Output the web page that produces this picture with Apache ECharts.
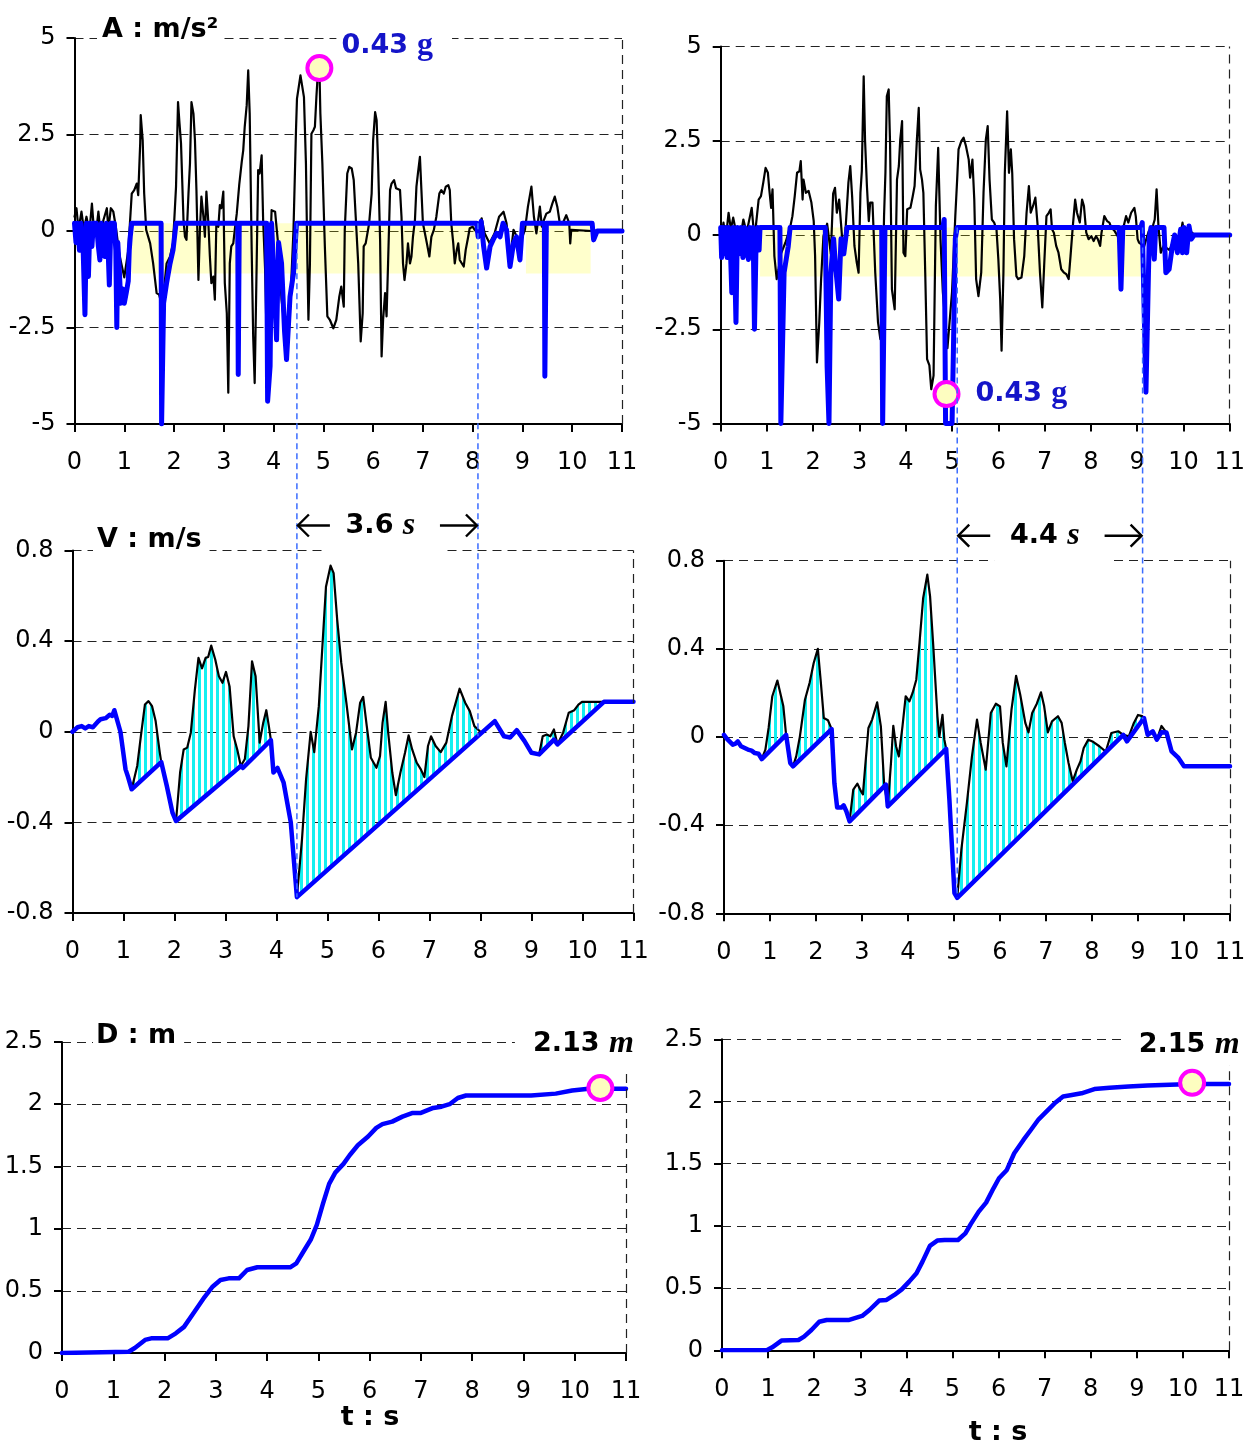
<!DOCTYPE html>
<html>
<head>
<meta charset="utf-8">
<script src="https://cdn.jsdelivr.net/npm/echarts@6/dist/echarts.min.js"></script>
<style>
  html, body { margin: 0; padding: 0; background: #fff; }
  #chart { width: 1252px; height: 1446px; }
</style>
</head>
<body>
<div id="chart"></div>
<script>
// ---- axis ticks ----
const timeTicks = [0, 1, 2, 3, 4, 5, 6, 7, 8, 9, 10, 11];
const accTicks = [-5, -2.5, 0, 2.5, 5];
const velTicks = [-0.8, -0.4, 0, 0.4, 0.8];
const distTicks = [0, 0.5, 1, 1.5, 2, 2.5];

// ---- acceleration, run 1 (t [s], a [m/s2]) ----
const accLeftRaw = [[0,0.37],[0.04,0.59],[0.08,0.03],[0.14,0.5],[0.19,0.03],[0.24,0.37],[0.3,-0.02],[0.35,0.71],[0.39,0.03],[0.44,0.03],[0.48,0.5],[0.53,-0.15],[0.58,0.28],[0.65,0.59],[0.68,0.03],[0.73,0.59],[0.78,0.5],[0.83,0.11],[0.9,-0.6],[1.0,-1.2],[1.08,-0.5],[1.15,0.97],[1.2,1.06],[1.25,1.23],[1.28,0.93],[1.32,2.27],[1.33,3.0],[1.37,2.35],[1.4,0.97],[1.44,0.03],[1.48,0.03],[1.52,-0.32],[1.58,-0.84],[1.65,-1.61],[1.7,-1.65],[1.75,-1.9],[1.8,-1.5],[1.85,-0.84],[1.92,-0.66],[1.98,-0.32],[2.04,1.15],[2.08,3.34],[2.11,2.78],[2.14,2.27],[2.19,0.28],[2.22,-0.15],[2.25,-0.23],[2.29,0.97],[2.32,1.75],[2.35,3.34],[2.39,3.04],[2.42,2.35],[2.45,1.06],[2.49,-1.27],[2.52,0.03],[2.55,0.89],[2.59,0.37],[2.62,-0.15],[2.65,1.02],[2.69,0.2],[2.72,-0.66],[2.75,-1.35],[2.79,-1.18],[2.82,-1.78],[2.85,0.2],[2.89,0.11],[2.92,0.67],[2.95,0.59],[2.99,1.02],[3.02,-1.35],[3.06,-2.13],[3.09,-4.19],[3.12,-0.84],[3.15,-0.4],[3.19,-0.32],[3.22,0.03],[3.26,0.45],[3.31,1.2],[3.36,1.79],[3.39,2.09],[3.42,2.7],[3.46,3.26],[3.49,4.16],[3.52,3.04],[3.56,-0.49],[3.59,-2.73],[3.62,-3.94],[3.66,-0.84],[3.69,1.58],[3.72,1.49],[3.76,1.96],[3.79,0.28],[3.83,-1.01],[3.87,-3.4],[3.92,-1.0],[3.96,0.54],[4.03,0.5],[4.09,-0.32],[4.16,-1.78],[4.23,-2.56],[4.33,-2.04],[4.4,0.03],[4.45,2.61],[4.47,3.43],[4.51,3.47],[4.54,4.03],[4.57,4.07],[4.61,3.47],[4.65,1.75],[4.68,-0.84],[4.7,-2.3],[4.73,-0.84],[4.76,2.52],[4.8,2.61],[4.83,2.7],[4.86,3.47],[4.9,4.33],[4.92,4.25],[4.94,3.04],[4.98,1.75],[5.03,-0.4],[5.08,-2.21],[5.13,-2.3],[5.2,-2.52],[5.26,-2.3],[5.32,-1.7],[5.36,-1.44],[5.41,-1.96],[5.43,0.03],[5.48,1.49],[5.52,1.66],[5.57,1.62],[5.61,1.32],[5.65,0.37],[5.7,-0.84],[5.75,-2.86],[5.79,-2.13],[5.81,-0.4],[5.85,-0.32],[5.89,-0.32],[5.92,0.2],[5.97,0.97],[6.0,2.35],[6.04,3.08],[6.07,2.87],[6.1,1.75],[6.14,-0.23],[6.17,-3.25],[6.2,-2.3],[6.24,-1.61],[6.27,-2.21],[6.3,-0.84],[6.34,1.06],[6.37,1.23],[6.42,1.32],[6.46,1.11],[6.5,1.15],[6.54,1.06],[6.57,0.37],[6.6,-0.84],[6.63,-1.27],[6.67,-0.84],[6.7,-0.32],[6.74,-0.84],[6.77,-0.66],[6.8,-0.15],[6.84,0.28],[6.87,1.15],[6.9,1.49],[6.94,1.92],[6.97,1.06],[7.0,0.2],[7.04,-0.06],[7.08,-0.32],[7.13,-0.66],[7.17,-0.15],[7.22,0.03],[7.27,0.37],[7.33,0.97],[7.37,1.06],[7.42,0.97],[7.46,1.15],[7.51,1.19],[7.54,1.06],[7.57,0.2],[7.61,-0.32],[7.64,-0.84],[7.68,-0.49],[7.71,-0.32],[7.74,-0.75],[7.78,-0.75],[7.82,-0.92],[7.86,-0.49],[7.91,-0.15],[7.94,0.07],[8.0,0.11],[8.04,0.03],[8.1,-0.06],[8.18,0.33],[8.24,-0.06],[8.34,-0.32],[8.44,-0.06],[8.53,0.37],[8.62,0.5],[8.68,0.2],[8.75,-0.75],[8.82,0.03],[8.95,-0.32],[9.05,0.03],[9.11,0.63],[9.18,1.15],[9.23,0.37],[9.28,-0.06],[9.35,0.63],[9.39,0.11],[9.43,0.28],[9.48,0.45],[9.55,0.5],[9.6,0.71],[9.65,0.89],[9.7,0.63],[9.75,0.2],[9.81,0.2],[9.88,0.41],[9.94,0.2],[9.96,-0.32],[9.98,0.03],[10.0,0],[10.4,0],[11,0]];
const accLeftBrake = [[0,0.2],[0.03,-0.3],[0.06,0.2],[0.1,-0.5],[0.13,0.2],[0.17,-0.3],[0.21,-2.17],[0.24,0.2],[0.28,-1.18],[0.31,0.2],[0.35,-0.4],[0.38,0.2],[0.44,0.2],[0.48,-0.4],[0.51,-0.75],[0.54,0.2],[0.58,-0.3],[0.61,-0.66],[0.64,0.2],[0.67,-0.3],[0.7,-1.4],[0.73,0.2],[0.8,0.2],[0.83,-0.5],[0.85,-2.5],[0.87,-0.3],[0.9,-1.0],[0.93,-1.87],[0.97,-1.5],[1.0,-1.87],[1.04,-1.6],[1.08,-1.3],[1.1,-0.5],[1.12,-0.15],[1.15,0.2],[1.74,0.2],[1.75,-5],[1.77,-5],[1.79,-1.87],[1.85,-1.35],[1.92,-0.84],[1.98,-0.49],[2.04,0.2],[3.28,0.2],[3.29,-3.72],[3.31,0.2],[3.86,0.2],[3.88,-4.41],[3.9,-4.41],[3.93,-3.5],[3.96,0.2],[4.0,0.2],[4.06,-2.82],[4.1,-0.3],[4.16,-0.84],[4.22,-2.6],[4.26,-3.33],[4.33,-1.7],[4.4,-1.1],[4.46,0.2],[8.08,0.2],[8.11,-0.15],[8.17,0.25],[8.22,-0.4],[8.28,-0.96],[8.35,-0.4],[8.41,-0.23],[8.48,-0.06],[8.55,-0.15],[8.61,0.2],[8.68,0.03],[8.75,-0.92],[8.82,-0.32],[8.88,-0.15],[8.95,-0.75],[9.0,0.2],[9.44,0.2],[9.45,-3.76],[9.47,-3.76],[9.48,0.2],[10.4,0.2],[10.43,-0.23],[10.5,0],[11,0]];

// ---- acceleration, run 2 ----
const accRightRaw = [[0,-0.2],[0.06,0.33],[0.11,-0.11],[0.17,0.59],[0.22,0.15],[0.27,0.46],[0.35,-0.03],[0.42,-0.11],[0.49,0.41],[0.56,0.06],[0.67,0.72],[0.73,-0.11],[0.82,0.94],[0.87,1.03],[0.92,1.39],[0.97,1.78],[1.02,1.65],[1.05,1.21],[1.09,0.72],[1.12,1.21],[1.16,-0.56],[1.21,-1.17],[1.25,-0.91],[1.3,-0.5],[1.4,-0.2],[1.5,0.2],[1.55,0.5],[1.6,1.03],[1.65,1.65],[1.7,1.69],[1.73,1.96],[1.77,0.94],[1.79,1.47],[1.84,1.12],[1.9,1.17],[1.96,0.86],[2.01,0.37],[2.04,-0.56],[2.08,-3.38],[2.13,-2.32],[2.17,-1.17],[2.22,-0.03],[2.3,0.3],[2.38,-0.5],[2.43,1.1],[2.47,1.25],[2.51,0.59],[2.56,0.94],[2.6,0.3],[2.65,-0.5],[2.7,0.2],[2.76,1.39],[2.8,1.83],[2.84,1.03],[2.89,-0.29],[2.94,-0.73],[2.98,-1.0],[3.02,1.12],[3.05,1.7],[3.09,4.21],[3.12,2.5],[3.16,1.3],[3.2,0.37],[3.23,0.86],[3.28,0.86],[3.34,-1.0],[3.4,-2.32],[3.45,-2.76],[3.5,-1.5],[3.53,0.5],[3.56,1.65],[3.59,3.68],[3.63,3.86],[3.66,2.44],[3.7,-1.44],[3.76,-1.97],[3.81,1.47],[3.85,1.83],[3.88,2.53],[3.92,3.02],[3.95,-0.47],[3.99,-0.56],[4.03,0.68],[4.06,0.72],[4.1,0.72],[4.15,1.03],[4.19,1.3],[4.24,2.53],[4.28,3.37],[4.31,1.74],[4.35,1.47],[4.38,1.12],[4.42,-1.0],[4.46,-3.29],[4.51,-3.46],[4.55,-4.09],[4.6,-3.73],[4.65,0.77],[4.7,2.31],[4.75,-0.11],[4.8,-1.5],[4.9,-3.0],[5.0,-1.5],[5.07,0.5],[5.11,1.47],[5.14,2.27],[5.2,2.49],[5.25,2.58],[5.3,2.36],[5.36,2.0],[5.39,1.52],[5.44,2.0],[5.48,0.94],[5.52,-1.17],[5.57,-1.62],[5.63,-1.0],[5.68,1.12],[5.73,2.53],[5.77,2.89],[5.81,1.47],[5.86,0.41],[5.91,0.33],[5.96,0.15],[6.0,-0.64],[6.04,-1.7],[6.07,-3.07],[6.11,-1.0],[6.14,1.65],[6.19,3.28],[6.23,1.65],[6.27,2.27],[6.3,1.65],[6.34,-0.11],[6.39,-1.09],[6.43,-1.17],[6.5,-1.13],[6.56,-0.56],[6.61,0.59],[6.66,1.3],[6.7,0.59],[6.75,0.77],[6.8,0.99],[6.85,0.24],[6.9,-1.0],[6.95,-1.92],[6.99,-0.82],[7.04,0.5],[7.09,0.59],[7.13,0.68],[7.16,0.15],[7.2,0.06],[7.25,-0.29],[7.3,-0.47],[7.36,-0.91],[7.42,-1.0],[7.47,-1.04],[7.52,-1.17],[7.56,-0.56],[7.61,0.24],[7.66,0.94],[7.7,0.59],[7.76,0.33],[7.81,0.94],[7.85,0.77],[7.9,0.06],[7.95,-0.11],[8.01,-0.03],[8.06,-0.16],[8.11,-0.03],[8.15,-0.11],[8.2,-0.29],[8.23,0.06],[8.29,0.5],[8.35,0.37],[8.4,0.33],[8.44,0.2],[8.51,0.11],[8.58,-0.03],[8.65,-0.3],[8.71,0.24],[8.76,0.5],[8.81,0.33],[8.87,0.59],[8.94,0.72],[8.97,0.5],[9.01,-0.11],[9.04,-0.2],[9.15,-0.3],[9.25,0.1],[9.33,0.2],[9.38,0.41],[9.42,1.21],[9.46,0.24],[9.51,-0.47],[9.57,-0.29],[9.7,-0.4],[9.8,-0.1],[9.9,-0.3],[9.98,0.33],[10.05,-0.2],[10.15,0.1],[10.25,0],[11,0]];
const accRightBrake = [[0,0.2],[0.02,-0.6],[0.05,0.2],[0.08,-0.5],[0.11,0.2],[0.14,-0.6],[0.17,0.2],[0.21,-0.4],[0.24,-1.53],[0.27,0.2],[0.3,-0.6],[0.33,-2.32],[0.36,0.2],[0.4,-0.5],[0.44,0.2],[0.48,-0.6],[0.52,0.2],[0.56,-0.4],[0.6,-0.65],[0.63,0.2],[0.67,-0.5],[0.7,0.2],[0.73,-2.5],[0.76,-0.5],[0.8,0.2],[0.83,-0.4],[0.85,0.2],[1.28,0.2],[1.3,-5],[1.34,-5],[1.37,-1.0],[1.41,-1.0],[1.46,-0.3],[1.5,0.2],[2.26,0.2],[2.3,-3.5],[2.34,-5],[2.38,-1.0],[2.44,-0.1],[2.48,-0.8],[2.55,-1.7],[2.6,-0.1],[2.66,-0.5],[2.73,0.2],[3.48,0.2],[3.5,-5],[3.53,-5],[3.55,0.2],[4.8,0.2],[4.83,0.41],[4.86,-5],[5.0,-5],[5.03,-3.0],[5.07,-0.1],[5.11,0.2],[8.61,0.2],[8.65,-1.44],[8.69,0.2],[9.08,0.2],[9.11,0.33],[9.19,-4.17],[9.26,-0.1],[9.3,0.2],[9.37,-0.64],[9.4,0.2],[9.58,0.2],[9.62,-1.0],[9.69,-0.91],[9.76,-0.3],[9.81,0.0],[9.87,-0.47],[9.94,0.15],[9.98,-0.47],[10.01,0.2],[10.07,-0.47],[10.12,0.24],[10.17,-0.11],[10.23,0],[11,0]];

// shaded acceleration windows [t start, t end] and their level range [top, bottom]
const bandLeft = [[1.15, 8.1], [9.07, 10.37]];
const bandRight = [[0.85, 9.08]];
const bandLevels = [0.2, -1.1];

// ---- velocity (t [s], v [m/s]) : measured and lower envelope ----
const velLeft = [[0,0],[0.1,0.02],[0.18,0.025],[0.25,0.015],[0.32,0.025],[0.4,0.02],[0.5,0.045],[0.55,0.055],[0.65,0.06],[0.73,0.075],[0.78,0.07],[0.82,0.095],[0.94,0],[1.04,-0.166],[1.09,-0.2],[1.16,-0.254],[1.27,-0.15],[1.34,-0.02],[1.42,0.12],[1.49,0.135],[1.56,0.113],[1.63,0.047],[1.71,-0.09],[1.74,-0.134],[1.85,-0.24],[1.96,-0.357],[2.03,-0.394],[2.11,-0.18],[2.18,-0.078],[2.25,-0.07],[2.32,-0.004],[2.4,0.186],[2.47,0.326],[2.54,0.28],[2.61,0.326],[2.66,0.33],[2.72,0.38],[2.8,0.318],[2.87,0.245],[2.94,0.216],[3.01,0.264],[3.08,0.2],[3.16,-0.02],[3.23,-0.078],[3.3,-0.151],[3.38,-0.12],[3.45,0.025],[3.52,0.311],[3.59,0.245],[3.67,-0.048],[3.74,0.04],[3.8,0.095],[3.85,0.025],[3.89,-0.037],[3.94,-0.18],[4.02,-0.16],[4.14,-0.225],[4.28,-0.4],[4.36,-0.62],[4.4,-0.73],[4.5,-0.474],[4.58,-0.21],[4.67,0],[4.74,-0.09],[4.83,0.113],[4.9,0.377],[4.97,0.64],[5.06,0.733],[5.12,0.7],[5.19,0.495],[5.27,0.304],[5.37,0.128],[5.48,-0.078],[5.56,-0.004],[5.64,0.128],[5.7,0.154],[5.77,0.025],[5.85,-0.115],[5.96,-0.159],[6.03,-0.107],[6.08,0.04],[6.14,0.132],[6.19,-0.004],[6.27,-0.18],[6.34,-0.28],[6.43,-0.18],[6.52,-0.093],[6.59,-0.016],[6.66,-0.078],[6.75,-0.137],[6.83,-0.166],[6.9,-0.2],[6.97,-0.063],[7.03,-0.02],[7.12,-0.063],[7.22,-0.09],[7.33,-0.048],[7.44,0.069],[7.59,0.19],[7.7,0.128],[7.79,0.091],[7.88,0.025],[7.95,0.01],[8.02,-0.005],[8.28,0.047],[8.46,-0.02],[8.58,-0.025],[8.71,0.007],[8.86,-0.04],[9.0,-0.093],[9.15,-0.1],[9.22,-0.02],[9.3,-0.012],[9.37,-0.02],[9.44,0.01],[9.51,-0.056],[9.62,-0.004],[9.73,0.084],[9.84,0.095],[9.92,0.12],[9.99,0.132],[10.42,0.132],[11,0.132]];
const velLeftEnv = [[0,0],[0.1,0.02],[0.18,0.025],[0.25,0.015],[0.32,0.025],[0.4,0.02],[0.5,0.045],[0.55,0.055],[0.65,0.06],[0.73,0.075],[0.78,0.07],[0.82,0.095],[0.94,0],[1.04,-0.166],[1.09,-0.2],[1.16,-0.254],[1.74,-0.134],[1.85,-0.24],[1.96,-0.357],[2.03,-0.394],[3.3,-0.151],[3.34,-0.16],[3.89,-0.037],[3.94,-0.18],[4.02,-0.16],[4.14,-0.225],[4.28,-0.4],[4.36,-0.62],[4.4,-0.73],[8.28,0.047],[8.46,-0.02],[8.58,-0.025],[8.71,0.007],[8.86,-0.04],[9.0,-0.093],[9.15,-0.1],[9.44,-0.035],[9.51,-0.056],[10.42,0.132],[11,0.132]];

const velRight = [[0,0.01],[0.07,-0.01],[0.19,-0.035],[0.25,-0.03],[0.3,-0.02],[0.37,-0.042],[0.45,-0.05],[0.52,-0.057],[0.6,-0.062],[0.67,-0.073],[0.75,-0.076],[0.82,-0.1],[0.9,-0.057],[0.97,0.041],[1.05,0.185],[1.09,0.19],[1.16,0.256],[1.24,0.185],[1.29,0.139],[1.35,0.01],[1.44,-0.118],[1.5,-0.133],[1.57,-0.088],[1.65,0.003],[1.76,0.169],[1.86,0.245],[1.95,0.336],[2.04,0.4],[2.1,0.26],[2.17,0.086],[2.26,0.076],[2.34,0.036],[2.4,-0.21],[2.46,-0.32],[2.55,-0.32],[2.6,-0.31],[2.66,-0.337],[2.73,-0.383],[2.81,-0.239],[2.9,-0.212],[2.98,-0.247],[3.02,-0.26],[3.07,-0.133],[3.14,0.041],[3.22,0.079],[3.33,0.157],[3.41,0.048],[3.48,-0.209],[3.52,-0.216],[3.56,-0.315],[3.63,-0.118],[3.68,0.051],[3.74,-0.042],[3.8,-0.088],[3.88,0.048],[3.95,0.185],[4.03,0.162],[4.1,0.2],[4.18,0.26],[4.25,0.427],[4.33,0.631],[4.42,0.737],[4.48,0.638],[4.55,0.411],[4.64,0.094],[4.68,0],[4.75,0.101],[4.79,-0.012],[4.83,-0.054],[4.9,-0.284],[5.01,-0.708],[5.07,-0.73],[5.16,-0.511],[5.28,-0.3],[5.39,-0.088],[5.5,0.079],[5.58,-0.027],[5.69,-0.148],[5.8,0.109],[5.91,0.151],[6.0,0.139],[6.06,-0.027],[6.14,-0.133],[6.25,0.124],[6.35,0.278],[6.44,0.192],[6.55,0.064],[6.62,0.021],[6.7,0.109],[6.8,0.151],[6.89,0.203],[6.96,0.139],[7.04,0.021],[7.13,0.071],[7.26,0.094],[7.34,0.064],[7.41,-0.027],[7.49,-0.118],[7.58,-0.2],[7.67,-0.148],[7.75,-0.11],[7.82,-0.05],[7.92,-0.012],[8.01,-0.02],[8.16,-0.042],[8.3,-0.066],[8.42,0.018],[8.57,0.026],[8.68,0.01],[8.8,0.003],[8.91,0.064],[9.0,0.1],[9.09,0.095],[9.13,0.086],[9.21,0.01],[9.32,0.026],[9.41,-0.012],[9.51,0.05],[9.62,0.02],[9.73,-0.065],[9.88,-0.095],[10.0,-0.133],[11,-0.133]];
const velRightEnv = [[0,0.01],[0.07,-0.01],[0.19,-0.035],[0.25,-0.03],[0.3,-0.02],[0.37,-0.042],[0.45,-0.05],[0.52,-0.057],[0.6,-0.062],[0.67,-0.073],[0.75,-0.076],[0.82,-0.1],[1.35,0.01],[1.44,-0.118],[1.5,-0.133],[2.34,0.036],[2.4,-0.21],[2.46,-0.32],[2.55,-0.32],[2.6,-0.31],[2.66,-0.337],[2.73,-0.383],[3.52,-0.216],[3.56,-0.315],[4.83,-0.054],[4.9,-0.284],[5.01,-0.708],[5.07,-0.73],[8.68,0.01],[8.76,-0.02],[9.13,0.086],[9.21,0.01],[9.32,0.026],[9.41,-0.012],[9.51,0.021],[9.62,0.02],[9.73,-0.065],[9.88,-0.095],[10.0,-0.133],[11,-0.133]];

// ---- distance (t [s], d [m]) ----
const distLeft = [[0,0],[1.3,0.01],[1.42,0.04],[1.62,0.105],[1.74,0.118],[2.06,0.118],[2.22,0.158],[2.38,0.21],[2.58,0.33],[2.78,0.45],[2.93,0.53],[3.09,0.587],[3.25,0.6],[3.45,0.6],[3.61,0.667],[3.81,0.689],[4.45,0.689],[4.57,0.72],[4.73,0.83],[4.85,0.91],[4.97,1.03],[5.09,1.2],[5.21,1.36],[5.33,1.45],[5.49,1.52],[5.61,1.59],[5.77,1.67],[5.97,1.74],[6.13,1.81],[6.25,1.84],[6.44,1.86],[6.64,1.9],[6.84,1.93],[7.0,1.93],[7.24,1.97],[7.4,1.98],[7.56,2.0],[7.72,2.05],[7.88,2.07],[9.15,2.07],[9.63,2.085],[9.95,2.11],[10.27,2.125],[11,2.125]];
const distRight = [[0,0],[0.97,0],[1.09,0.024],[1.29,0.078],[1.66,0.083],[1.78,0.11],[1.94,0.163],[2.11,0.23],[2.27,0.244],[2.76,0.244],[3.04,0.276],[3.2,0.324],[3.41,0.4],[3.57,0.405],[3.74,0.445],[3.9,0.49],[4.06,0.552],[4.22,0.619],[4.35,0.713],[4.51,0.839],[4.67,0.882],[4.83,0.887],[5.12,0.887],[5.28,0.94],[5.4,1.016],[5.57,1.115],[5.73,1.187],[5.89,1.302],[6.01,1.383],[6.18,1.45],[6.34,1.584],[6.54,1.691],[6.7,1.771],[6.87,1.857],[7.07,1.931],[7.23,1.99],[7.4,2.04],[7.56,2.05],[7.8,2.066],[8.08,2.1],[8.41,2.11],[8.82,2.12],[9.23,2.128],[10.2,2.14],[11,2.14]];

// ---- highlighted points ----
const G = 9.81;
const peakAccLeft = [4.92, 4.22];
const peakAccRight = [4.88, -4.22];
const finalDistLeft = [10.5, 2.13];
const finalDistRight = [10.2, 2.15];

// stopping spans on the velocity curves: [start point, end point] and their captions
const spanLeft = [[4.4, -0.73], [7.95, -0.02]];
const spanRight = [[5.07, -0.73], [9.1, 0.08]];
const spanCaptions = ['3.6', '4.4'];

// ---------------- rendering ----------------
const SANS = "'DejaVu Sans', 'Liberation Sans', sans-serif";
const SERIF = "'Liberation Serif', 'DejaVu Serif', serif";
const BLUE = '#0000ff';
const LABEL_BLUE = '#1414c8';
const MARKER_FILL = '#fdfdc0';

function makeCanvas(w, h, paint) {
  const c = document.createElement('canvas');
  c.width = w; c.height = h;
  paint(c.getContext('2d'));
  return c;
}
// vertical cyan hatching, transparent between stripes
const stripeFill = { image: makeCanvas(6, 4, g => { g.fillStyle = '#14f0f0'; g.fillRect(0, 0, 3, 4); }), repeat: 'repeat' };

const grids = [
  { left: 74.5, top: 38, width: 547.5, height: 386 },
  { left: 720.7, top: 46.5, width: 509, height: 377 },
  { left: 72.5, top: 550.5, width: 561, height: 362.5 },
  { left: 724, top: 560.7, width: 506, height: 352.6 },
  { left: 62, top: 1042, width: 564, height: 311 },
  { left: 722, top: 1039.3, width: 507, height: 311 }
].map(g => Object.assign({ outerBoundsMode: 'none', containLabel: false }, g));

const valueTicks = [accTicks, accTicks, velTicks, velTicks, distTicks, distTicks];
const axisFont = { fontFamily: SANS, fontSize: 24, color: '#000' };
const gridDash = { color: '#222', width: 1.2, type: [9, 6] };

const xAxes = grids.map((g, i) => ({
  type: 'value', gridIndex: i,
  min: timeTicks[0], max: timeTicks[timeTicks.length - 1], interval: timeTicks[1] - timeTicks[0],
  axisLine: { show: true, onZero: false, lineStyle: { color: '#000', width: 2 } },
  axisTick: { show: true, inside: false, length: 8, lineStyle: { color: '#000', width: 2 } },
  axisLabel: Object.assign({ show: true, margin: 27, showMinLabel: true, showMaxLabel: true, hideOverlap: false }, axisFont),
  splitLine: { show: false }
}));
const yAxes = grids.map((g, i) => {
  const t = valueTicks[i];
  return {
    type: 'value', gridIndex: i,
    min: t[0], max: t[t.length - 1], interval: +(t[1] - t[0]).toFixed(4),
    axisLine: { show: true, onZero: false, lineStyle: { color: '#000', width: 2 } },
    axisTick: { show: true, inside: false, length: 8, lineStyle: { color: '#000', width: 2 } },
    axisLabel: Object.assign({ show: true, margin: 19, showMinLabel: true, showMaxLabel: true, hideOverlap: false }, axisFont),
    splitLine: { show: true, lineStyle: gridDash }
  };
});

function frame(gi, bands) {
  const s = {
    type: 'line', xAxisIndex: gi, yAxisIndex: gi, z: 1, silent: true,
    data: [[timeTicks[0], 0]], symbol: 'none', showSymbol: false, lineStyle: { opacity: 0 },
    markLine: {
      silent: true, symbol: 'none', animation: false, label: { show: false },
      lineStyle: gridDash, emphasis: { disabled: true },
      data: [{ xAxis: timeTicks[timeTicks.length - 1] }]
    }
  };
  if (bands) {
    s.markArea = {
      silent: true, animation: false, itemStyle: { color: 'rgba(255,255,0,0.2)' },
      data: bands.map(b => [{ xAxis: b[0], yAxis: bandLevels[0] }, { xAxis: b[1], yAxis: bandLevels[1] }])
    };
  }
  return s;
}
function line(gi, data, color, width, z) {
  return {
    type: 'line', xAxisIndex: gi, yAxisIndex: gi, data, z, silent: true,
    symbol: 'none', showSymbol: false, smooth: false,
    lineStyle: { color, width, join: 'round', cap: 'round' }
  };
}
function hatch(gi, upper, lower) {
  return {
    type: 'custom', xAxisIndex: gi, yAxisIndex: gi, z: 2, silent: true,
    data: [upper[0]],
    renderItem: (params, api) => ({
      type: 'polygon',
      shape: { points: upper.map(p => api.coord(p)).concat(lower.slice().reverse().map(p => api.coord(p))) },
      style: { fill: stripeFill, stroke: null }
    })
  };
}
function marker(gi, p, label) {
  return {
    type: 'scatter', xAxisIndex: gi, yAxisIndex: gi, z: 10, silent: true,
    symbol: 'circle', symbolSize: 24, data: [p],
    itemStyle: { color: MARKER_FILL, borderColor: '#ff00ff', borderWidth: 4, opacity: 1 },
    label: Object.assign({ show: true }, label)
  };
}
const gText = v => (Math.abs(v) / G).toFixed(2);
const accRich = {
  n: { fontFamily: SANS, fontWeight: 'bold', fontSize: 27, color: LABEL_BLUE, lineHeight: 30 },
  g: { fontFamily: SERIF, fontWeight: 'bold', fontSize: 32, color: LABEL_BLUE, lineHeight: 30 }
};
const distRich = {
  n: { fontFamily: SANS, fontWeight: 'bold', fontSize: 27, color: '#000', lineHeight: 32 },
  m: { fontFamily: SERIF, fontWeight: 'bold', fontStyle: 'italic', fontSize: 32, color: '#000', lineHeight: 32 }
};
const labelBase = { fontFamily: SANS, fontWeight: 'bold', fontSize: 26 };

const series = [
  // acceleration
  frame(0, bandLeft), line(0, accLeftRaw, '#000', 2.2, 3), line(0, accLeftBrake, BLUE, 5, 4),
  marker(0, peakAccLeft, Object.assign({}, labelBase, {
    position: 'right', distance: 0, offset: [3, -22], color: LABEL_BLUE,
    formatter: '{n|' + gText(peakAccLeft[1]) + '} {g|g}', rich: accRich,
    backgroundColor: '#fff', padding: [0, 19, 0, 5]
  })),
  frame(1, bandRight), line(1, accRightRaw, '#000', 2.2, 3), line(1, accRightBrake, BLUE, 5, 4),
  marker(1, peakAccRight, Object.assign({}, labelBase, {
    position: 'right', distance: 15, color: LABEL_BLUE,
    formatter: '{n|' + gText(peakAccRight[1]) + '} {g|g}', rich: accRich
  })),
  // velocity
  frame(2), hatch(2, velLeft, velLeftEnv), line(2, velLeft, '#000', 2.2, 3), line(2, velLeftEnv, BLUE, 4.5, 4),
  frame(3), hatch(3, velRight, velRightEnv), line(3, velRight, '#000', 2.2, 3), line(3, velRightEnv, BLUE, 4.5, 4),
  // distance
  frame(4), line(4, distLeft, BLUE, 4.5, 4),
  marker(4, finalDistLeft, Object.assign({}, labelBase, {
    fontSize: 27, position: 'top', distance: 3, offset: [-22, 0], color: '#000',
    formatter: '{n|' + finalDistLeft[1].toFixed(2) + '} {m|m}', rich: distRich,
    backgroundColor: '#fff', padding: [4, 8, 11, 18]
  })),
  frame(5), line(5, distRight, BLUE, 4.5, 4),
  marker(5, finalDistRight, Object.assign({}, labelBase, {
    fontSize: 27, position: 'top', distance: 3, offset: [-9.5, 0], color: '#000',
    formatter: '{n|' + finalDistRight[1].toFixed(2) + '} {m|m}', rich: distRich,
    backgroundColor: '#fff', padding: [4, 4, 5, 17]
  }))
];

const chart = echarts.init(document.getElementById('chart'), null, { renderer: 'canvas', width: 1252, height: 1446 });
chart.setOption({
  animation: false,
  backgroundColor: '#fff',
  grid: grids, xAxis: xAxes, yAxis: yAxes, series
});

// ---- titles, stopping-span guides and captions ----
const TITLE_FONT = 'bold 27px ' + SANS;
const graphics = [];
function title(x, y, text, pad, align) {
  graphics.push({
    type: 'text', x, y, z: 100, silent: true,
    style: {
      text, font: TITLE_FONT, fill: '#000', align: align || 'left', verticalAlign: 'middle',
      backgroundColor: pad ? '#fff' : null, padding: pad || 0
    }
  });
}
title(97, 29.5, 'A : m/s²', [2, 2, 2, 5]);
title(93, 540, 'V : m/s', [2, 8, 2, 4]);
title(93, 1036, 'D : m', [2, 8, 2, 3]);
title(370, 1418, 't : s', null, 'center');
title(998, 1433, 't : s', null, 'center');

function px(gi, p) { return chart.convertToPixel({ gridIndex: gi }, p); }
function addSpan(accGrid, velGrid, span, caption, boxShift, pad) {
  const a = px(velGrid, span[0]);
  const b = px(velGrid, span[1]);
  const guideStyle = { stroke: '#3a6cff', lineWidth: 1.5, lineDash: [6, 4], fill: null };
  [[a, span[0][0]], [b, span[1][0]]].forEach(([p, t]) => {
    const top = px(accGrid, [t, bandLevels[0]])[1];
    graphics.push({ type: 'line', z: 60, silent: true, shape: { x1: p[0], y1: top, x2: p[0], y2: p[1] }, style: guideStyle });
  });
  const yTop = px(velGrid, [0, velTicks[velTicks.length - 1]])[1];
  const y = yTop - 25;
  const mid = (a[0] + b[0]) / 2;
  graphics.push({
    type: 'text', x: mid + boxShift, y: y + 5, z: 100, silent: true,
    style: {
      text: '{n|' + caption + '} {s|s}', align: 'center', verticalAlign: 'middle',
      fontFamily: SANS, fontWeight: 'bold', fontSize: 27, fill: '#000',
      rich: {
        n: { fontFamily: SANS, fontWeight: 'bold', fontSize: 27, fill: '#000' },
        s: { fontFamily: SERIF, fontWeight: 'bold', fontStyle: 'italic', fontSize: 32, fill: '#000' }
      },
      backgroundColor: '#fff', padding: pad
    }
  });
  const arrowStyle = { stroke: '#000', lineWidth: 2.4, fill: null, lineJoin: 'miter' };
  const la = a[0] + 1, ra = b[0] - 1;
  graphics.push({ type: 'polyline', z: 110, silent: true, shape: { points: [[la + 32, y], [la, y]] }, style: arrowStyle });
  graphics.push({ type: 'polyline', z: 110, silent: true, shape: { points: [[la + 11, y - 11], [la, y], [la + 11, y + 11]] }, style: arrowStyle });
  graphics.push({ type: 'polyline', z: 110, silent: true, shape: { points: [[ra - 37, y], [ra, y]] }, style: arrowStyle });
  graphics.push({ type: 'polyline', z: 110, silent: true, shape: { points: [[ra - 11, y - 11], [ra, y], [ra - 11, y + 11]] }, style: arrowStyle });
}
addSpan(0, 2, spanLeft, spanCaptions[0], -4, [2, 27, 12, 21]);
addSpan(1, 3, spanRight, spanCaptions[1], 4, [2, 34, 12, 16]);

chart.setOption({ graphic: graphics });
</script>
</body>
</html>
